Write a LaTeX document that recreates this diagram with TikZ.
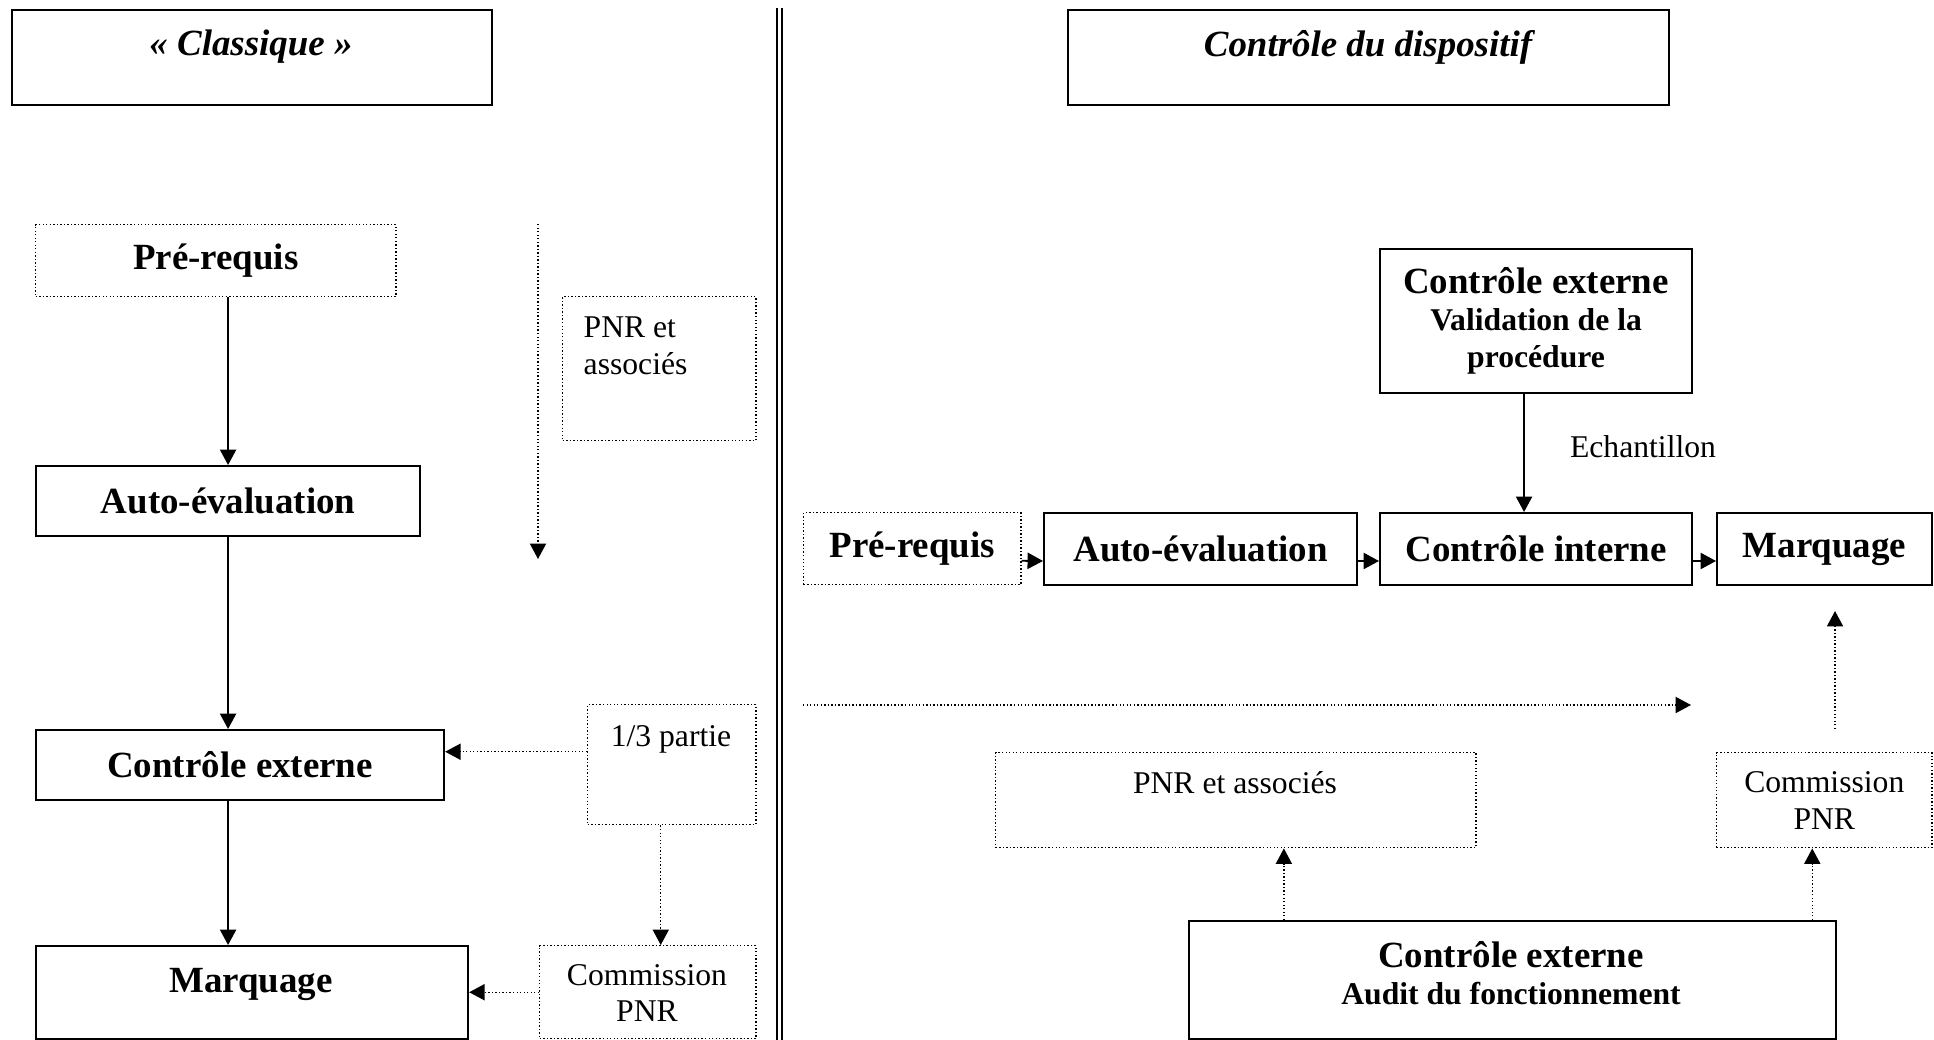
\documentclass[tikz,border=0pt]{standalone}
\usepackage{fontspec}
\setmainfont{Liberation Serif}
\usetikzlibrary{arrows.meta}
\begin{document}
\begin{tikzpicture}[x=.01cm, y=.01cm, >={Triangle[length=4.4pt,width=4.6pt]},
    box/.style={draw, line width=.55pt, inner sep=0pt, anchor=north west},
    dbox/.style={draw, line width=.4pt, dash pattern=on .4pt off .6pt, inner sep=0pt, anchor=north west},
    wh/.style 2 args={minimum width=#1cm, minimum height=#2cm},
    big/.style={font=\fontsize{10.5}{12}\selectfont\bfseries, inner sep=0pt},
    ttl/.style={font=\fontsize{10.5}{12}\selectfont\bfseries\itshape, inner sep=0pt},
    sbold/.style={font=\fontsize{9}{10.5}\selectfont\bfseries, align=center, inner sep=0pt},
    sml/.style={font=\fontsize{9}{10.5}\selectfont, align=center, inner sep=0pt},
    flow/.style={->, line width=.55pt},
    dflow/.style={->, line width=.4pt, dash pattern=on .4pt off .6pt}]
  \useasboundingbox (0,0) rectangle (1934,-1040);
  \draw[line width=.7pt, double, double distance=.85pt] (779.5,-8) -- (779.5,-1040);
  % classique
  \node[box, wh={4.8}{.95}] (clas) at (11,-9) {};
  \node[ttl] (clas-t) at (251,-47) {«~Classique~»};
  \node[dbox, wh={3.6}{.72}, big] (preA) at (35,-224) {Pré-requis};
  \node[box, wh={3.84}{.7}, big] (autoA) at (35,-465) {Auto-évaluation};
  \node[box, wh={4.08}{.7}, big] (extA) at (35,-729) {Contrôle externe};
  \node[box, wh={4.32}{.93}] (marqA) at (35,-945) {};
  \node[big] (marqA-t) at (251,-984) {Marquage};
  \node[dbox, wh={1.93}{1.44}] (pnrA) at (562,-296) {};
  \node[sml, align=left, anchor=west] (pnrA-t) at (583,-346) {PNR et\\associés};
  \node[dbox, wh={1.68}{1.2}] (tiers) at (587,-704) {};
  \node[sml] (tiers-t) at (671,-739) {1/3 partie};
  \node[dbox, wh={2.16}{.93}] (comA) at (539,-945) {};
  \node[sml] (comA-t) at (647,-993) {Commission\\PNR};
  \coordinate (pA0) at (538,-224);
  \coordinate (pA1) at (538,-559);
  \draw[flow] (preA.south -| autoA.north) -- (autoA.north);
  \draw[flow] (autoA.south) -- (autoA.south |- extA.north);
  \draw[flow] (extA.south -| autoA.south) -- (marqA.north -| autoA.south);
  \draw[dflow] (pA0) -- (pA1);
  \draw[dflow] ([yshift=.13cm]tiers.west) -- ([yshift=.13cm]tiers.west -| extA.east);
  \draw[dflow] ([xshift=-.11cm]tiers.south) -- ([xshift=-.11cm]tiers.south |- comA.north);
  \draw[dflow] (comA.west) -- (comA.west -| marqA.east);
  % dispositif
  \node[box, wh={6.01}{.95}] (disp) at (1067,-9) {};
  \node[ttl] (disp-t) at (1368,-47) {Contrôle du dispositif};
  \node[box, wh={3.12}{1.44}, sbold] (valB) at (1379,-248) {{\fontsize{10.5}{12}\selectfont Contrôle externe}\\Validation de la\\procédure};
  \node[dbox, wh={2.17}{.72}, big] (preB) at (803,-512) {Pré-requis};
  \node[box, wh={3.13}{.72}, big] (autoB) at (1043,-512) {Auto-évaluation};
  \node[box, wh={3.12}{.72}, big] (intB) at (1379,-512) {Contrôle interne};
  \node[box, wh={2.15}{.72}, big] (marqB) at (1716,-512) {Marquage};
  \draw[flow] ([yshift=-.12cm]preB.east) -- ([yshift=-.12cm]autoB.west);
  \draw[flow] ([yshift=-.12cm]autoB.east) -- ([yshift=-.12cm]intB.west);
  \draw[flow] ([yshift=-.12cm]intB.east) -- ([yshift=-.12cm]marqB.west);
  \draw[flow] ([xshift=-.12cm]valB.south) -- ([xshift=-.12cm]intB.north)
    node[sml, midway, right=.45cm, yshift=.06cm] (ech) {Echantillon};
  \coordinate (tB0) at (803,-705);
  \coordinate (tB1) at (1691,-705);
  \coordinate (cB0) at (1835,-729);
  \coordinate (cB1) at (1835,-611);
  \draw[dflow] (tB0) -- (tB1);
  \draw[dflow] (cB0) -- (cB1);
  \node[dbox, wh={4.8}{.95}] (pnrB) at (995,-752) {};
  \node[sml] (pnrB-t) at (1235,-783) {PNR et associés};
  \node[dbox, wh={2.15}{.95}, sml] (comB) at (1716,-752) {Commission\\PNR};
  \node[box, wh={6.47}{1.18}] (audB) at (1188,-920) {};
  \node[sbold] (audB-t) at (1511,-973) {{\fontsize{10.5}{12}\selectfont Contrôle externe}\\Audit du fonctionnement};
  \draw[dflow] ([xshift=.48cm]pnrB.south |- audB.north) -- ([xshift=.48cm]pnrB.south);
  \draw[dflow] ([xshift=-.12cm]comB.south |- audB.north) -- ([xshift=-.12cm]comB.south);
\end{tikzpicture}
\end{document}
